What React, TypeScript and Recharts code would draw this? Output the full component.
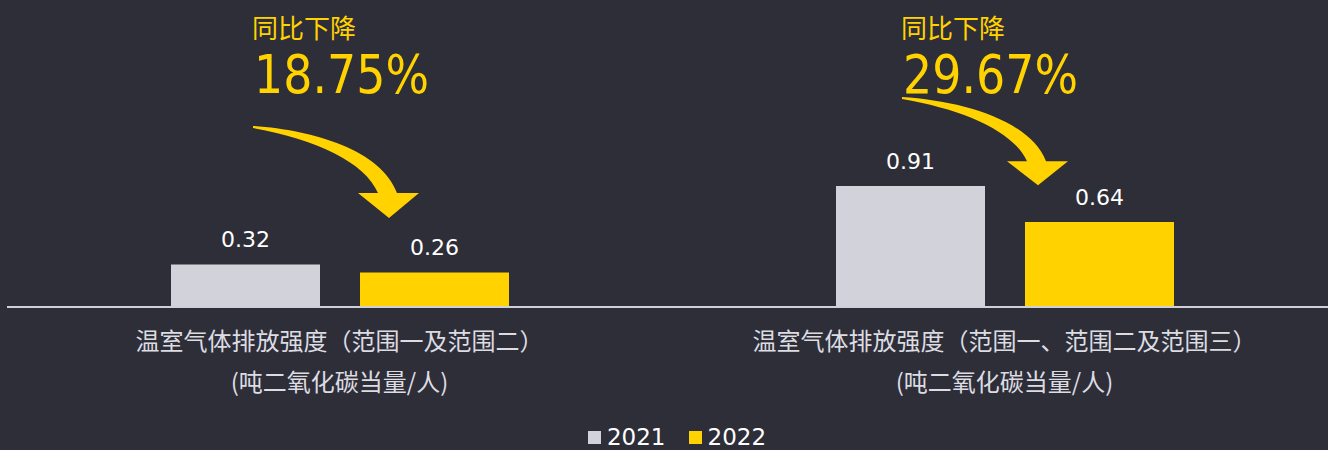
import React from 'react';
import { BarChart, Bar, XAxis, YAxis, Legend, LabelList } from 'recharts';

const categories = [
    '温室气体排放强度（范围一及范围二）',
    '温室气体排放强度（范围一、范围二及范围三）',
];
const unitLabel = '(吨二氧化碳当量/人)';
const years = ['2021', '2022'];
const values2021 = [0.32, 0.91];
const values2022 = [0.26, 0.64];
const changeLabel = '同比下降';

const GREY = '#d2d2da';
const YELLOW = '#ffd200';
const BG = '#2e2e38';

const data = categories.map((name, i) => ({
    name,
    y2021: values2021[i],
    y2022: values2022[i],
}));

const drops = values2021.map((v, i) => (((v - values2022[i]) / v) * 100).toFixed(2) + '%');

// where each "同比下降" callout sits
const callouts = [
    { x: 252, y: 0, sy: 1 },
    { x: 901, y: -29, sy: 0.96 },
];

const CategoryTick = (props: any) => {
    const { x, y, payload } = props;
    return (
        <g>
            <text
                x={x}
                y={y + 35}
                textAnchor="middle"
                fill="#dcdce2"
                fontSize={24}
                fontFamily="'Noto Sans CJK SC', sans-serif"
            >
                {payload.value}
            </text>
            <text
                x={x}
                y={y + 76}
                textAnchor="middle"
                fill="#dcdce2"
                fontSize={24}
                fontFamily="'Noto Sans CJK SC', sans-serif"
            >
                {unitLabel}
            </text>
        </g>
    );
};

const LegendContent = () => (
    <div style={{ display: 'flex', justifyContent: 'center', alignItems: 'center', height: 30 }}>
        {years.map((yr, i) => (
            <div key={yr} style={{ display: 'flex', alignItems: 'center', marginRight: i === 0 ? 23 : 0 }}>
                <span
                    style={{
                        display: 'inline-block',
                        width: 13,
                        height: 13,
                        background: i === 0 ? GREY : YELLOW,
                        marginRight: 6,
                    }}
                />
                <span style={{ color: '#ffffff', fontSize: 23, fontFamily: "'DejaVu Sans', sans-serif" }}>{yr}</span>
            </div>
        ))}
    </div>
);

export default function App() {
    return (
        <div
            style={{
                position: 'fixed',
                top: 0,
                left: 0,
                width: 1328,
                height: 450,
                background: BG,
                overflow: 'hidden',
            }}
        >
            <BarChart
                width={1340}
                height={450}
                data={data}
                margin={{ top: 174, right: 3, left: 7, bottom: 113 }}
                barCategoryGap={163.5}
                barGap={40}
            >
                <XAxis
                    dataKey="name"
                    height={30}
                    axisLine={{ stroke: '#d0d0d8', strokeWidth: 2 }}
                    tickLine={false}
                    tick={<CategoryTick />}
                    interval={0}
                />
                <YAxis hide domain={[0, 1]} />
                <Legend
                    layout="horizontal"
                    verticalAlign="middle"
                    align="center"
                    content={<LegendContent />}
                    wrapperStyle={{ top: 422, left: 7, width: 1340, height: 0, overflow: 'visible' }}
                />
                <Bar dataKey="y2021" name={years[0]} fill={GREY} barSize={149} isAnimationActive={false}>
                    <LabelList
                        dataKey="y2021"
                        position="top"
                        offset={17}
                        fill="#ffffff"
                        fontSize={22}
                        fontFamily="'DejaVu Sans', sans-serif"
                    />
                </Bar>
                <Bar dataKey="y2022" name={years[1]} fill={YELLOW} barSize={149} isAnimationActive={false}>
                    <LabelList
                        dataKey="y2022"
                        position="top"
                        offset={17}
                        fill="#ffffff"
                        fontSize={22}
                        fontFamily="'DejaVu Sans', sans-serif"
                    />
                </Bar>
            </BarChart>
            <svg
                width={1328}
                height={450}
                style={{ position: 'absolute', top: 0, left: 0, pointerEvents: 'none' }}
            >
                {callouts.map((c, i) => (
                    <g key={i}>
                        <text
                            x={c.x}
                            y={38}
                            fill={YELLOW}
                            fontSize={26}
                            fontFamily="'Noto Sans CJK SC', sans-serif"
                        >
                            {changeLabel}
                        </text>
                        <text
                            x={c.x + 2}
                            y={93}
                            fill={YELLOW}
                            fontSize={54}
                            fontFamily="'DejaVu Sans', sans-serif"
                            textLength={175}
                            lengthAdjust="spacingAndGlyphs"
                        >
                            {drops[i]}
                        </text>
                        <path
                            transform={`translate(${c.x + 1},${126 + c.y}) scale(1,${c.sy})`}
                            d="M0,0 C60,4 128,24 144,67 L166,67 L136,92 L105,67 L125,67 C112,36 62,13 0,2 Z"
                            fill={YELLOW}
                        />
                    </g>
                ))}
            </svg>
        </div>
    );
}
